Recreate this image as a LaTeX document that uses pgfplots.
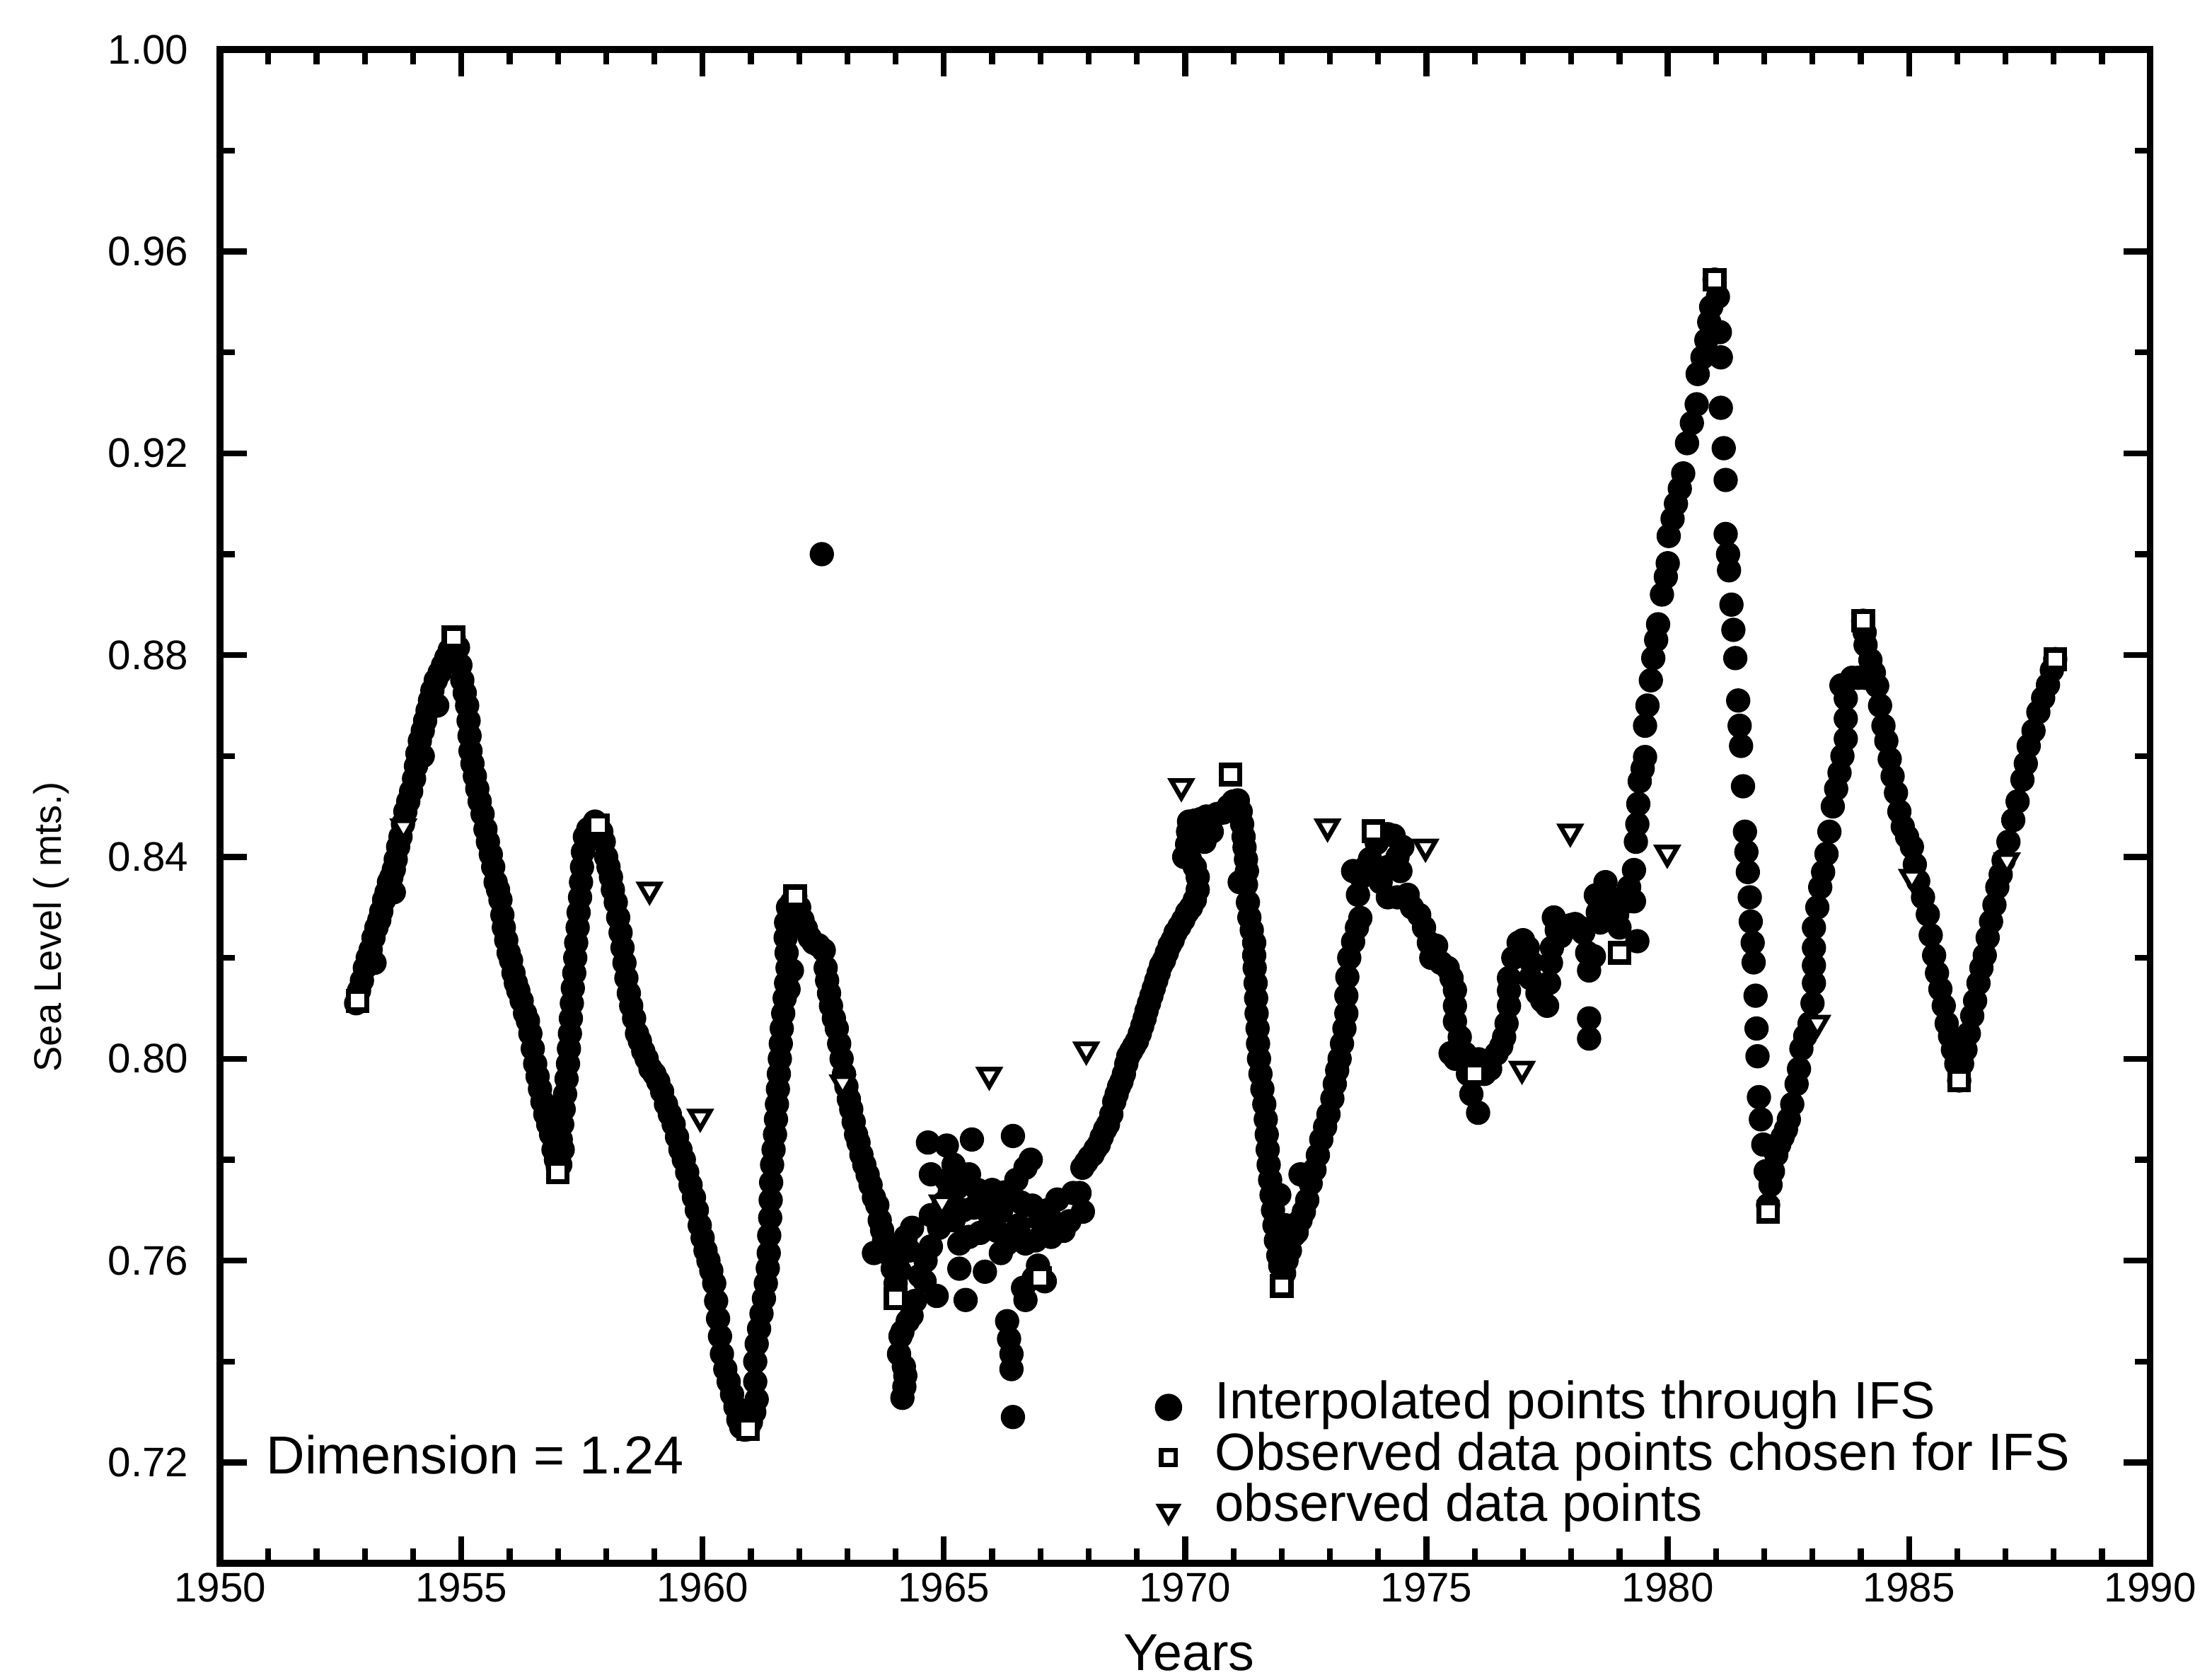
\documentclass[border=0pt]{standalone}
\usepackage{fontspec}
\setmainfont{Liberation Sans}
\usepackage{pgfplots}
\pgfplotsset{compat=1.18}
\begin{document}
\begin{tikzpicture}
\begin{axis}[
  scale only axis,
  width=397.3pt, height=311.6pt,
  xmin=1950, xmax=1990, ymin=0.70, ymax=1.00,
  xtick={1950,1955,1960,1965,1970,1975,1980,1985,1990},
  ytick={0.72,0.76,0.80,0.84,0.88,0.92,0.96,1.00},
  minor x tick num=4,
  minor y tick num=1,
  tick align=inside,
  major tick length=5.5pt, minor tick length=3.1pt,
  axis line style={line width=1.35pt},
  every tick/.style={line width=1.2pt, black},
  /pgf/number format/assume math mode=true,
  xticklabel style={font=\fontsize{8.5}{10}\selectfont, yshift=1.5pt, /pgf/number format/1000 sep={}},
  yticklabel style={font=\fontsize{8.5}{10}\selectfont, xshift=-3pt,
     /pgf/number format/fixed, /pgf/number format/fixed zerofill, /pgf/number format/precision=2},
  xlabel={Years},
  xlabel style={at={(axis description cs:0.502,-0.059)}, anchor=center, inner sep=0pt, font=\fontsize{10.7}{12}\selectfont},
  ylabel={Sea Level ( mts.)},
  ylabel style={at={(axis description cs:-0.0876,0.4205)}, anchor=center, font=\fontsize{7.9}{10}\selectfont},
  legend cell align=left,
  legend style={at={(axis cs:1968.74,0.7365)}, anchor=north west, draw=none, fill=none,
     inner sep=0pt, outer sep=0pt, font=\fontsize{10.8}{12}\selectfont, row sep=-0.4pt,
     nodes={inner sep=0.5pt, text height=7.6pt, text depth=2.4pt}},
]
\addplot[only marks, mark=*, mark size=2.3pt, draw=black, fill=black,
  legend image code/.code={\path (0cm,0cm) (0.6cm,0cm); \draw[black, fill=black] (0.3cm,-0.3pt) circle (2.6pt);}]
 table[row sep=\\] {
x y\\
1952.82 0.811\\ 1952.88 0.8135\\ 1952.94 0.8155\\ 1953.00 0.818\\ 1953.06 0.820\\ 1953.12 0.8216\\
1953.18 0.824\\ 1953.24 0.826\\ 1953.30 0.8275\\ 1953.34 0.8292\\ 1953.40 0.8315\\ 1953.45 0.833\\
1953.50 0.835\\ 1953.55 0.836\\ 1953.60 0.8375\\ 1953.64 0.8395\\ 1953.69 0.842\\ 1953.74 0.844\\
1953.79 0.8465\\ 1953.84 0.849\\ 1953.90 0.851\\ 1953.96 0.853\\ 1954.02 0.8555\\ 1954.06 0.858\\
1954.09 0.8605\\ 1954.14 0.863\\ 1954.20 0.865\\ 1954.25 0.867\\ 1954.30 0.869\\ 1954.35 0.871\\
1954.40 0.873\\ 1954.47 0.875\\ 1954.55 0.8765\\ 1954.62 0.878\\ 1954.69 0.8795\\ 1954.76 0.881\\
1954.84 0.8835\\ 1954.20 0.860\\ 1953.60 0.833\\ 1953.20 0.819\\ 1954.50 0.870\\
1954.93 0.8815\\ 1954.98 0.878\\ 1955.02 0.875\\ 1955.07 0.8725\\ 1955.12 0.870\\ 1955.15 0.867\\
1955.17 0.864\\ 1955.19 0.861\\ 1955.23 0.8585\\ 1955.28 0.856\\ 1955.33 0.8535\\ 1955.38 0.851\\
1955.44 0.8485\\ 1955.50 0.8455\\ 1955.55 0.843\\ 1955.61 0.8405\\ 1955.66 0.838\\ 1955.71 0.835\\
1955.76 0.8335\\ 1955.81 0.8315\\ 1955.85 0.8285\\ 1955.88 0.826\\ 1955.93 0.8235\\ 1955.98 0.821\\
1956.03 0.8195\\ 1956.08 0.817\\ 1956.13 0.815\\ 1956.18 0.8135\\ 1956.25 0.8115\\ 1956.32 0.809\\
1956.38 0.8075\\ 1956.43 0.805\\ 1956.48 0.802\\ 1956.53 0.799\\ 1956.58 0.7965\\ 1956.63 0.794\\
1956.68 0.7915\\ 1956.74 0.789\\ 1956.80 0.787\\ 1956.86 0.785\\ 1956.91 0.782\\ 1956.96 0.780\\
1957.00 0.7785\\ 1956.90 0.790\\ 1956.95 0.786\\ 1957.05 0.779\\ 1957.10 0.782\\
1957.03 0.781\\ 1957.06 0.784\\ 1957.09 0.787\\ 1957.12 0.790\\ 1957.15 0.793\\ 1957.18 0.796\\
1957.21 0.799\\ 1957.23 0.802\\ 1957.25 0.805\\ 1957.27 0.808\\ 1957.29 0.811\\ 1957.31 0.814\\
1957.34 0.817\\ 1957.36 0.820\\ 1957.38 0.823\\ 1957.41 0.826\\ 1957.43 0.829\\ 1957.46 0.832\\
1957.48 0.835\\ 1957.50 0.838\\ 1957.52 0.841\\ 1957.56 0.844\\ 1957.63 0.8455\\ 1957.70 0.846\\
1957.77 0.847\\ 1957.83 0.8463\\
1957.90 0.845\\ 1957.95 0.843\\ 1958.00 0.840\\ 1958.05 0.838\\ 1958.10 0.836\\ 1958.14 0.8335\\
1958.20 0.831\\ 1958.25 0.828\\ 1958.30 0.825\\ 1958.34 0.822\\ 1958.38 0.819\\ 1958.42 0.816\\
1958.47 0.813\\ 1958.52 0.8105\\ 1958.58 0.808\\ 1958.64 0.805\\
1958.70 0.8035\\ 1958.77 0.8015\\ 1958.84 0.800\\ 1958.92 0.798\\ 1959.00 0.797\\ 1959.08 0.7955\\
1959.16 0.7935\\ 1959.24 0.791\\ 1959.32 0.789\\ 1959.40 0.787\\ 1959.47 0.7845\\ 1959.54 0.782\\
1959.61 0.780\\ 1959.68 0.7775\\ 1959.75 0.775\\ 1959.82 0.7725\\ 1959.88 0.770\\ 1959.94 0.767\\
1960.00 0.7645\\ 1960.06 0.762\\ 1960.12 0.760\\ 1960.18 0.758\\ 1960.24 0.7555\\ 1960.28 0.752\\
1960.32 0.7485\\ 1960.36 0.745\\ 1960.40 0.7415\\ 1960.47 0.7385\\ 1960.54 0.736\\ 1960.61 0.7335\\
1960.68 0.731\\ 1960.74 0.7285\\ 1960.80 0.727\\ 1960.87 0.7265\\
1960.94 0.7266\\ 1961.00 0.728\\ 1961.07 0.730\\ 1961.12 0.7325\\ 1961.09 0.736\\ 1961.09 0.740\\
1961.12 0.7435\\ 1961.17 0.7465\\ 1961.22 0.7495\\ 1961.27 0.7525\\ 1961.31 0.7555\\ 1961.35 0.7585\\
1961.37 0.7615\\ 1961.38 0.765\\ 1961.40 0.7685\\ 1961.41 0.772\\ 1961.42 0.7755\\ 1961.44 0.779\\
1961.47 0.782\\ 1961.50 0.785\\ 1961.52 0.788\\ 1961.54 0.791\\ 1961.56 0.794\\ 1961.58 0.797\\
1961.60 0.800\\ 1961.62 0.803\\ 1961.64 0.806\\ 1961.67 0.809\\ 1961.70 0.812\\ 1961.73 0.815\\
1961.76 0.818\\ 1961.74 0.821\\ 1961.72 0.824\\ 1961.73 0.827\\ 1961.77 0.830\\ 1961.85 0.831\\
1961.92 0.8322\\ 1961.78 0.8138\\ 1961.85 0.8175\\
1962.00 0.830\\ 1962.07 0.8275\\ 1962.14 0.8258\\ 1962.22 0.824\\ 1962.30 0.823\\ 1962.40 0.8225\\
1962.51 0.8215\\ 1962.55 0.818\\ 1962.58 0.8155\\ 1962.62 0.813\\ 1962.66 0.8105\\ 1962.72 0.808\\
1962.78 0.806\\ 1962.83 0.803\\ 1962.88 0.800\\ 1962.93 0.797\\ 1962.98 0.7945\\ 1963.03 0.792\\
1963.08 0.790\\ 1963.13 0.7875\\ 1963.18 0.785\\ 1963.23 0.7834\\ 1963.29 0.781\\ 1963.35 0.779\\
1963.42 0.777\\ 1963.48 0.775\\ 1963.55 0.7725\\ 1963.62 0.771\\ 1963.67 0.768\\ 1963.72 0.766\\
1963.76 0.764\\ 1963.55 0.7615\\ 1963.82 0.7615\\ 1963.88 0.7615\\ 1963.94 0.7584\\ 1964.00 0.7555\\
1962.47 0.900\\
1964.07 0.7415\\ 1964.10 0.745\\ 1964.14 0.7459\\ 1964.14 0.7328\\ 1964.18 0.735\\ 1964.20 0.7372\\
1964.17 0.739\\ 1964.25 0.748\\ 1964.33 0.7491\\ 1964.40 0.752\\ 1964.21 0.7647\\ 1964.34 0.7665\\
1964.50 0.757\\ 1964.60 0.7559\\ 1964.73 0.7628\\ 1964.73 0.769\\ 1964.73 0.7771\\ 1964.67 0.7834\\
1964.85 0.753\\ 1964.62 0.760\\ 1964.28 0.762\\ 1964.08 0.758\\
1965.06 0.7828\\ 1965.06 0.7759\\ 1965.00 0.7715\\ 1965.20 0.779\\ 1965.32 0.7634\\ 1965.32 0.7584\\
1965.45 0.7522\\ 1965.52 0.7647\\ 1965.52 0.7771\\ 1965.58 0.784\\ 1965.70 0.774\\ 1965.78 0.7721\\
1965.85 0.7578\\ 1965.95 0.769\\ 1966.10 0.7659\\ 1966.18 0.7697\\ 1966.18 0.7615\\ 1966.31 0.7634\\
1966.31 0.748\\ 1966.35 0.7445\\ 1966.40 0.7415\\ 1966.40 0.7385\\ 1966.43 0.729\\ 1966.43 0.7847\\
1966.50 0.776\\ 1966.64 0.7546\\ 1966.69 0.7522\\ 1966.69 0.7784\\ 1966.69 0.7634\\ 1966.83 0.7709\\
1966.80 0.780\\ 1966.95 0.759\\ 1967.09 0.7559\\ 1967.22 0.7647\\ 1967.35 0.7721\\ 1967.48 0.7659\\
1967.60 0.7678\\ 1967.68 0.7734\\ 1967.81 0.7734\\ 1967.88 0.7697\\ 1967.87 0.7784\\ 1965.40 0.770\\
1965.20 0.768\\ 1966.00 0.774\\ 1966.55 0.767\\ 1967.00 0.768\\ 1966.90 0.764\\
1965.12 0.7735\\ 1965.28 0.7745\\ 1965.62 0.7705\\ 1966.05 0.7705\\ 1966.25 0.7735\\ 1966.60 0.7715\\
1967.15 0.770\\ 1967.30 0.7675\\ 1965.75 0.7655\\ 1966.86 0.7565\\ 1964.90 0.7665\\
1967.95 0.7795\\ 1968.02 0.7805\\ 1968.08 0.781\\ 1968.14 0.7821\\ 1968.21 0.783\\ 1968.27 0.7845\\
1968.34 0.786\\ 1968.40 0.787\\ 1968.47 0.789\\ 1968.53 0.7915\\ 1968.58 0.793\\ 1968.63 0.7945\\
1968.68 0.7955\\ 1968.73 0.797\\ 1968.78 0.799\\ 1968.82 0.8005\\ 1968.88 0.8015\\ 1968.94 0.8025\\
1969.00 0.8035\\ 1969.06 0.805\\ 1969.11 0.8065\\ 1969.16 0.808\\ 1969.20 0.8095\\ 1969.25 0.811\\
1969.30 0.8125\\ 1969.35 0.814\\ 1969.40 0.8155\\ 1969.45 0.817\\ 1969.50 0.8185\\ 1969.56 0.8195\\
1969.62 0.821\\ 1969.68 0.8225\\ 1969.74 0.8235\\ 1969.80 0.825\\ 1969.88 0.8262\\ 1969.96 0.8275\\
1970.04 0.829\\ 1970.12 0.830\\ 1970.20 0.8315\\ 1970.26 0.8335\\ 1970.26 0.836\\ 1970.20 0.838\\
1970.10 0.8395\\ 1969.98 0.840\\ 1970.04 0.8425\\ 1970.06 0.845\\ 1970.08 0.847\\ 1970.20 0.8472\\
1970.32 0.8475\\ 1970.44 0.848\\ 1970.40 0.843\\ 1970.55 0.845\\ 1970.66 0.8485\\ 1970.79 0.8488\\
1970.90 0.850\\ 1971.00 0.851\\ 1971.09 0.8512\\ 1971.15 0.849\\ 1971.18 0.8465\\ 1971.21 0.844\\
1971.23 0.8419\\ 1971.26 0.8395\\ 1971.28 0.8372\\ 1971.13 0.835\\ 1971.26 0.8345\\ 1971.30 0.831\\
1971.33 0.828\\ 1971.38 0.8255\\ 1971.43 0.823\\ 1971.43 0.8205\\ 1971.44 0.818\\ 1971.46 0.815\\
1971.47 0.812\\ 1971.48 0.809\\ 1971.50 0.806\\ 1971.51 0.803\\ 1971.53 0.800\\ 1971.56 0.797\\
1971.60 0.794\\ 1971.64 0.791\\ 1971.67 0.788\\ 1971.69 0.785\\ 1971.71 0.782\\ 1971.73 0.779\\
1971.76 0.776\\ 1971.79 0.773\\ 1971.82 0.770\\ 1971.85 0.767\\ 1971.88 0.764\\ 1971.93 0.761\\
1971.97 0.759\\
1971.95 0.773\\ 1972.05 0.7575\\ 1972.10 0.760\\ 1972.08 0.767\\ 1972.17 0.762\\ 1972.25 0.765\\
1972.31 0.7656\\ 1972.39 0.768\\ 1972.46 0.7697\\ 1972.39 0.7771\\ 1972.53 0.772\\ 1972.60 0.7753\\
1972.68 0.778\\ 1972.75 0.7809\\ 1972.82 0.784\\ 1972.90 0.7865\\ 1972.97 0.789\\ 1973.05 0.7921\\
1973.10 0.795\\ 1973.15 0.7977\\ 1973.20 0.800\\ 1973.25 0.803\\ 1973.30 0.806\\ 1973.34 0.809\\
1973.34 0.8125\\ 1973.36 0.8162\\ 1973.40 0.820\\ 1973.48 0.8232\\ 1973.56 0.826\\ 1973.63 0.8279\\
1973.58 0.8325\\ 1973.48 0.8372\\ 1973.65 0.836\\ 1973.75 0.838\\ 1973.83 0.8396\\ 1973.97 0.8428\\
1974.10 0.8445\\ 1974.20 0.8445\\ 1974.32 0.8442\\ 1974.20 0.838\\ 1974.40 0.840\\ 1974.46 0.8372\\
1974.50 0.842\\ 1974.61 0.8325\\ 1974.70 0.830\\ 1974.40 0.832\\ 1974.05 0.835\\ 1974.20 0.832\\
1974.85 0.8285\\ 1974.95 0.826\\ 1975.05 0.823\\ 1975.10 0.820\\ 1975.20 0.8224\\ 1975.30 0.819\\
1975.44 0.818\\ 1975.52 0.816\\ 1975.59 0.8136\\ 1975.59 0.8105\\ 1975.59 0.8074\\ 1975.69 0.8043\\
1975.50 0.8011\\ 1975.60 0.800\\ 1975.80 0.801\\ 1975.86 0.797\\ 1975.93 0.793\\ 1976.08 0.7999\\
1976.07 0.7893\\ 1976.20 0.797\\ 1976.32 0.798\\ 1976.45 0.801\\ 1976.55 0.8025\\ 1976.61 0.8043\\
1976.66 0.807\\ 1976.71 0.8105\\ 1976.71 0.8135\\ 1976.71 0.816\\ 1976.80 0.820\\ 1976.91 0.823\\
1977.00 0.8235\\ 1977.10 0.822\\ 1977.15 0.816\\ 1977.18 0.819\\ 1977.30 0.813\\ 1977.40 0.8115\\
1977.50 0.8105\\ 1977.54 0.815\\ 1977.58 0.819\\ 1977.60 0.822\\ 1977.64 0.828\\ 1977.70 0.8255\\
1977.78 0.8243\\ 1977.90 0.826\\ 1978.00 0.8265\\ 1978.08 0.8267\\ 1978.18 0.826\\ 1978.25 0.825\\
1978.33 0.821\\ 1978.37 0.8175\\ 1978.37 0.808\\ 1978.37 0.804\\ 1978.47 0.8203\\ 1978.51 0.8324\\
1978.55 0.829\\ 1978.60 0.827\\ 1978.71 0.835\\ 1978.80 0.832\\ 1978.86 0.8289\\ 1978.95 0.8285\\
1979.00 0.826\\ 1979.10 0.831\\ 1979.20 0.834\\ 1979.30 0.8374\\ 1979.34 0.843\\ 1979.37 0.8465\\
1979.39 0.8505\\
1979.37 0.8233\\ 1979.30 0.8312\\ 1979.42 0.855\\ 1979.48 0.8575\\ 1979.53 0.8598\\ 1979.53 0.866\\
1979.58 0.870\\ 1979.65 0.875\\ 1979.70 0.8794\\ 1979.76 0.883\\ 1979.80 0.8861\\ 1979.88 0.892\\
1979.96 0.8955\\ 1980.00 0.8982\\ 1980.02 0.9036\\ 1980.10 0.907\\ 1980.17 0.910\\ 1980.25 0.913\\
1980.32 0.916\\ 1980.40 0.922\\ 1980.50 0.926\\ 1980.60 0.9297\\ 1980.62 0.9357\\ 1980.72 0.939\\
1980.80 0.9424\\ 1980.86 0.946\\ 1980.90 0.949\\ 1980.97 0.9544\\
1981.04 0.951\\ 1981.08 0.944\\ 1981.10 0.939\\ 1981.10 0.929\\ 1981.16 0.921\\ 1981.20 0.9147\\
1981.20 0.904\\ 1981.25 0.900\\ 1981.27 0.8968\\ 1981.32 0.890\\ 1981.36 0.885\\ 1981.40 0.8794\\
1981.46 0.871\\ 1981.49 0.866\\ 1981.52 0.862\\ 1981.56 0.854\\ 1981.60 0.845\\ 1981.63 0.841\\
1981.66 0.837\\ 1981.70 0.832\\ 1981.72 0.8272\\ 1981.76 0.823\\ 1981.78 0.8191\\ 1981.82 0.8125\\
1981.84 0.806\\ 1981.86 0.8005\\ 1981.89 0.7924\\ 1981.93 0.788\\ 1981.98 0.783\\ 1982.03 0.7777\\
1982.08 0.771\\
1982.13 0.775\\ 1982.18 0.7777\\ 1982.25 0.781\\ 1982.31 0.783\\ 1982.38 0.7845\\ 1982.45 0.786\\
1982.51 0.788\\ 1982.58 0.791\\ 1982.67 0.795\\ 1982.72 0.798\\ 1982.77 0.802\\ 1982.85 0.8045\\
1982.94 0.807\\ 1983.00 0.811\\ 1983.03 0.815\\ 1983.03 0.8185\\ 1983.03 0.822\\ 1983.03 0.826\\
1983.10 0.830\\ 1983.16 0.834\\ 1983.22 0.837\\ 1983.29 0.8406\\ 1983.35 0.845\\ 1983.42 0.850\\
1983.49 0.8535\\ 1983.56 0.8567\\ 1983.62 0.860\\ 1983.69 0.8634\\ 1983.69 0.8674\\ 1983.69 0.8714\\
1983.60 0.874\\ 1983.82 0.8755\\ 1983.95 0.8755\\ 1984.08 0.8755\\ 1984.05 0.8868\\ 1984.08 0.8845\\
1984.10 0.882\\ 1984.20 0.879\\ 1984.27 0.8765\\ 1984.34 0.8739\\ 1984.40 0.870\\ 1984.47 0.866\\
1984.53 0.863\\ 1984.60 0.8594\\ 1984.66 0.856\\ 1984.73 0.8527\\ 1984.80 0.849\\ 1984.87 0.846\\
1984.96 0.844\\ 1985.06 0.842\\ 1985.12 0.8385\\ 1985.19 0.8352\\ 1985.29 0.832\\ 1985.39 0.8286\\
1985.45 0.8245\\ 1985.52 0.8205\\ 1985.58 0.817\\ 1985.65 0.8138\\ 1985.72 0.8105\\ 1985.78 0.807\\
1985.85 0.8045\\ 1985.91 0.8018\\ 1985.98 0.799\\ 1986.04 0.7957\\ 1986.10 0.799\\ 1986.17 0.8018\\
1986.24 0.805\\ 1986.31 0.8085\\ 1986.37 0.8115\\ 1986.44 0.815\\ 1986.50 0.818\\ 1986.57 0.8205\\
1986.63 0.824\\ 1986.70 0.8272\\ 1986.77 0.8305\\ 1986.83 0.834\\ 1986.90 0.8365\\ 1986.96 0.8393\\
1987.06 0.843\\ 1987.16 0.8473\\ 1987.25 0.851\\ 1987.35 0.8553\\ 1987.42 0.8585\\ 1987.48 0.862\\
1987.58 0.865\\ 1987.68 0.8687\\ 1987.78 0.8715\\ 1987.88 0.8741\\ 1987.96 0.877\\ 1988.03 0.8792\\
};
\addlegendentry{Interpolated points through IFS}
\addplot[only marks, mark=square*, mark size=1.9pt, line width=1.1pt, draw=black, fill=white,
  legend image code/.code={\path (0cm,0cm) (0.6cm,0cm); \draw[black, fill=white, line width=0.9pt] (0.3cm-1.5pt,-1.5pt) rectangle (0.3cm+1.5pt,1.5pt);}]
 table[row sep=\\] {
x y\\
1952.85 0.8115\\ 1954.84 0.8835\\ 1957.00 0.7775\\ 1957.83 0.8463\\ 1960.94 0.7266\\
1961.92 0.8322\\ 1964.00 0.7525\\ 1966.99 0.7566\\ 1970.94 0.8563\\ 1972.00 0.7550\\
1973.90 0.8451\\ 1976.00 0.7970\\ 1979.00 0.8210\\ 1980.97 0.9544\\ 1982.08 0.7697\\
1984.05 0.8868\\ 1986.04 0.7957\\ 1988.03 0.8792\\
};
\addlegendentry{Observed data points chosen for IFS}
\addplot[only marks, mark=triangle*, mark size=2.4pt, line width=0.95pt, draw=black, fill=white,
  mark options={rotate=180},
  legend image code/.code={\path (0cm,0cm) (0.6cm,0cm); \draw[black, fill=white, line width=0.9pt, mark size=2.2pt, mark options={rotate=180}] plot[mark=triangle*] coordinates {(0.3cm,-0.5pt)};}]
 table[row sep=\\] {
x y\\
1953.80 0.8460\\ 1958.90 0.8335\\ 1959.95 0.7885\\ 1962.90 0.7953\\ 1964.96 0.7715\\
1965.94 0.7968\\ 1967.95 0.8018\\ 1969.92 0.8540\\ 1972.95 0.8460\\ 1974.98 0.8420\\
1976.98 0.7980\\ 1977.98 0.8450\\ 1979.99 0.8408\\ 1983.10 0.8071\\ 1985.06 0.8360\\
1987.03 0.8393\\
};
\addlegendentry{observed data points}
\node[anchor=west, inner sep=0pt, font=\fontsize{11}{12}\selectfont] at (axis cs:1950.94,0.7215) {Dimension = 1.24};
\end{axis}
\pgfresetboundingbox
\useasboundingbox (-45.3pt,-24.0pt) rectangle (410.0pt,321.8pt);
\end{tikzpicture}
\end{document}
